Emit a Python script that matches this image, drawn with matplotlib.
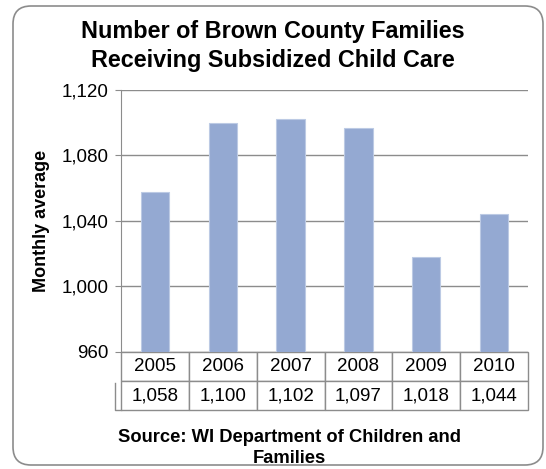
import numpy as np
import matplotlib.pyplot as plt
from matplotlib.patches import FancyBboxPatch
from matplotlib.ticker import FuncFormatter

years = ['2005', '2006', '2007', '2008', '2009', '2010']
families = [1058, 1100, 1102, 1097, 1018, 1044]
y_ticks = [960, 1000, 1040, 1080, 1120]

plt.rcParams['font.family'] = ['Liberation Sans', 'DejaVu Sans']
grey = '#8c8c8c'

W, H = 546, 469
fig = plt.figure(figsize=(W / 100, H / 100), dpi=100)

# rounded outer frame (inches), kept behind the axes
frame = FancyBboxPatch((0.13, 0.04), 5.30, 4.59,
                       boxstyle='round,pad=0,rounding_size=0.18',
                       transform=fig.dpi_scale_trans,
                       fc='white', ec=grey, lw=1.2, zorder=-1)
fig.patches.append(frame)

left, right, top, bottom = 121, 528, 90, 352
ax = fig.add_axes([left / W, 1 - bottom / H, (right - left) / W, (bottom - top) / H])
ax.patch.set_alpha(0)

x = np.arange(len(years))
ax.bar(x, families, width=0.42, color='#94a9d2', edgecolor='#bccae4', lw=0.8, zorder=3)
ax.set_xlim(-0.5, len(years) - 0.5)
ax.set_ylim(y_ticks[0], y_ticks[-1])
ax.set_yticks(y_ticks)
ax.yaxis.set_major_formatter(FuncFormatter(lambda v, p: f'{int(v):,}'))
ax.yaxis.grid(True, color=grey, lw=1)
ax.set_axisbelow(True)
for s in ['top', 'right', 'bottom']:
    ax.spines[s].set_visible(False)
ax.spines['left'].set_color(grey)
ax.tick_params(axis='y', length=4, color=grey, labelsize=13.5, pad=5)
ax.tick_params(axis='x', bottom=False, labelbottom=False)

# data table under the plot
h_px = 58
tab = ax.table(cellText=[years, [f'{v:,}' for v in families]],
               cellLoc='center', bbox=[0, -h_px / (bottom - top), 1, h_px / (bottom - top)])
tab.auto_set_font_size(False)
tab.set_fontsize(13.5)
for cell in tab.get_celld().values():
    cell.set_edgecolor(grey)
    cell.set_linewidth(1)

# small legend-key cell on the left of the value row
kx = -6 / (right - left)
y1 = -31 / (bottom - top)
y2 = -h_px / (bottom - top)
ax.plot([kx, kx, 0], [y1, y2, y2], color=grey, lw=1, transform=ax.transAxes, clip_on=False)

fig.text(0.5, 1 - 46 / H, 'Number of Brown County Families\nReceiving Subsidized Child Care',
         ha='center', va='center', fontsize=16.8, fontweight='bold', linespacing=1.3)
fig.text(41 / W, 1 - 221 / H, 'Monthly average', rotation=90, ha='center', va='center',
         fontsize=13, fontweight='bold')
fig.text(289 / W, 1 - 448 / H, 'Source: WI Department of Children and\nFamilies',
         ha='center', va='center', fontsize=13.2, fontweight='bold', linespacing=1.35)

fig.savefig('out.png', dpi=100)
